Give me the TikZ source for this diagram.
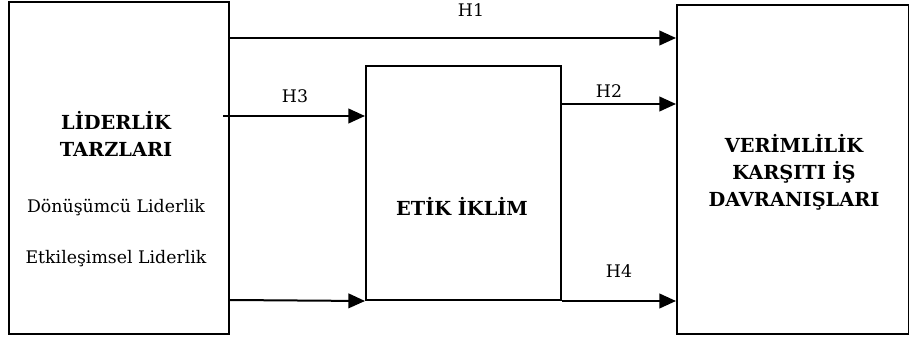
\documentclass[tikz,border=0pt]{standalone}
\usepackage{fontspec}
\setmainfont{DejaVu Serif}
\usetikzlibrary{arrows.meta}
\begin{document}
\begin{tikzpicture}[x=0.75pt,y=-0.75pt,
  box/.style={draw,line width=1.5pt,anchor=north west,inner sep=0pt},
  arr/.style={line width=1.5pt,-{Triangle[length=12.5pt,width=11pt]}},
  lbl/.style={font=\fontsize{13}{15}\selectfont,anchor=base,inner sep=0pt},
  bold/.style={font=\fontsize{14.5}{17}\selectfont\bfseries,anchor=base,inner sep=0pt}]
\useasboundingbox (0,0) rectangle (909,338);
\node[box,minimum width=220*0.75pt,minimum height=332*0.75pt] (L) at (8,1) {};
\node[box,minimum width=195*0.75pt,minimum height=234*0.75pt] (M) at (365,65) {};
\node[box,minimum width=232*0.75pt,minimum height=329*0.75pt] (R) at (676,4) {};
% texts
\node[bold] (L1) at (116,130) {LİDERLİK};
\node[bold] (L2) at (116,157) {TARZLARI};
\node[lbl] (Ld) at (116,213) {Dönüşümcü Liderlik};
\node[lbl] (Le) at (116,263) {Etkileşimsel Liderlik};
\node[bold] (Mt) at (462,215) {ETİK İKLİM};
\node[bold] (R1) at (794,153) {VERİMLİLİK};
\node[bold] (R2) at (794,180) {KARŞITI İŞ};
\node[bold] (R3) at (794,207) {DAVRANIŞLARI};
% connectors
\coordinate (h1s) at (230,38);
\coordinate (h3s) at (223,116);
\coordinate (b1s) at (230,300);
\coordinate (h2s) at (560,104);
\draw[arr] (h1s) -- (h1s -| R.west);
\draw[arr] (h3s) -- (h3s -| M.west);
\draw[arr] (b1s) -- (M.south west);
\draw[arr] (h2s) -- (h2s -| R.west);
\draw[arr] (M.south east) -- (M.south east -| R.west);
% labels
\node[lbl] (H1) at (471,16.7) {H1};
\node[lbl] (H3) at (295,102.7) {H3};
\node[lbl] (H2) at (609,98) {H2};
\node[lbl] (H4) at (619,277) {H4};
\end{tikzpicture}
\end{document}
